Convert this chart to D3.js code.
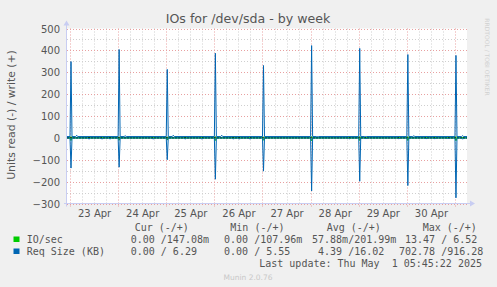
<!DOCTYPE html>
<html><head><meta charset="utf-8">
<script src="https://cdn.jsdelivr.net/npm/d3@7"></script>
<style>
body{margin:0;background:#f0f0f0;}
svg{display:block;}
text{white-space:pre;}
</style></head><body>
<svg id="c" width="497" height="287"></svg>
<script>
// ---------- data ----------
const title = "IOs for /dev/sda - by week";
const yLabel = "Units read (-) / write (+)";
const yTicks = [500, 400, 300, 200, 100, 0, -100, -200, -300];
const dayLabels = ["23 Apr", "24 Apr", "25 Apr", "26 Apr", "27 Apr", "28 Apr", "29 Apr", "30 Apr"];
const dayNoons = ["2025-04-23T12:00", "2025-04-24T12:00", "2025-04-25T12:00", "2025-04-26T12:00",
                  "2025-04-27T12:00", "2025-04-28T12:00", "2025-04-29T12:00", "2025-04-30T12:00"];
const timeStart = "2025-04-22T22:30";
const timeEnd = "2025-05-01T06:00";

const spikeTimes = ["2025-04-23T00:30", "2025-04-24T00:30", "2025-04-25T00:30", "2025-04-26T00:30",
                    "2025-04-27T00:30", "2025-04-28T00:30", "2025-04-29T00:30", "2025-04-30T00:30",
                    "2025-05-01T00:30"];
// Req Size (KB): write (+) and read (-) peaks
const reqWritePeaks = [349, 404, 313, 387, 331, 422, 409, 381, 377];
const reqReadPeaks  = [138, 134, 100, 189, 152, 243, 198, 218, 274];
// IO/sec peaks
const ioWritePeaks = [6, 5, 5, 6, 5, 6, 6, 6, 6.5];
const ioReadPeaks  = [12, 11, 10, 12, 11, 13, 12, 12, 13.5];
// baselines
const reqWriteBase = 6, reqReadBase = 0.5, ioWriteBase = 0.15, ioReadBase = 0.05;
// small excursions
const reqWriteBumps = [["2025-04-23T03:20", 12], ["2025-04-24T03:30", 10], ["2025-04-25T03:30", 12],
                       ["2025-04-26T03:40", 12], ["2025-04-28T03:30", 6], ["2025-04-29T03:30", 6],
                       ["2025-04-30T03:30", 10], ["2025-05-01T03:50", 10]];
const reqReadBumps = [["2025-04-23T09:30", 6], ["2025-04-23T16:00", 6], ["2025-04-23T20:00", 6],
                      ["2025-04-24T17:30", 6], ["2025-04-25T09:30", 6], ["2025-04-25T17:45", 6],
                      ["2025-04-26T09:30", 6], ["2025-04-26T12:30", 6], ["2025-04-26T17:45", 6],
                      ["2025-04-28T19:20", 5], ["2025-04-29T03:40", 5], ["2025-04-29T20:00", 5],
                      ["2025-04-30T09:35", 5], ["2025-04-30T14:00", 5], ["2025-04-30T20:40", 5],
                      ["2025-05-01T03:50", 6]];

// legend table
const seriesNames = ["IO/sec", "Req Size (KB)"];
const seriesColors = ["#00cc00", "#0066b3"];
const colHeaders = ["Cur (-/+)", "Min (-/+)", "Avg (-/+)", "Max (-/+)"];
const curRead  = ["0.00", "0.00"],   curWrite = ["147.08m", "6.29"];
const minRead  = ["0.00", "0.00"],   minWrite = ["107.96m", "5.55"];
const avgRead  = ["57.88m", "4.39"], avgWrite = ["201.99m", "16.02"];
const maxRead  = ["13.47", "702.78"], maxWrite = ["6.52", "916.28"];
const lastUpdate = "Last update: Thu May  1 05:45:22 2025";
const footer = "Munin 2.0.76";
const sideText = "RRDTOOL / TOBI OETIKER";

// ---------- layout ----------
const parse = d3.timeParse("%Y-%m-%dT%H:%M");
const svg = d3.select("#c");
const L = 67, R = 467, T = 28.5, B = 203.5;
const x = d3.scaleTime().domain([parse(timeStart), parse(timeEnd)]).range([L, R]);
const y = d3.scaleLinear().domain([-300, 500]).range([B, T]);
const fontSans = "'DejaVu Sans', sans-serif";
const fontMono = "'DejaVu Sans Mono', monospace";
const txt = "#555";

svg.append("rect").attr("width", 497).attr("height", 287).attr("fill", "#f0f0f0");
svg.append("rect").attr("x", L).attr("y", T).attr("width", R - L).attr("height", B - T).attr("fill", "#fff");

// minor grid
const g = svg.append("g");
const minorY = d3.range(-250, 500, 100);
g.selectAll(".hmin").data(minorY).join("line")
  .attr("x1", L).attr("x2", R).attr("y1", d => Math.round(y(d)) + 0.5).attr("y2", d => Math.round(y(d)) + 0.5)
  .attr("stroke", "#cfcfcf").attr("stroke-dasharray", "1,2");
const sixHours = d3.timeHour.every(6).range(x.domain()[0], x.domain()[1]).filter(d => d.getHours() !== 0);
g.selectAll(".vmin").data(sixHours).join("line")
  .attr("x1", d => Math.round(x(d)) + 0.5).attr("x2", d => Math.round(x(d)) + 0.5)
  .attr("y1", T).attr("y2", B + 1.5)
  .attr("stroke", "#cfcfcf").attr("stroke-dasharray", "1,2");
// major grid
g.selectAll(".hmaj").data(yTicks.filter(d => d !== 0)).join("line")
  .attr("x1", L).attr("x2", R).attr("y1", d => Math.round(y(d)) + 0.5).attr("y2", d => Math.round(y(d)) + 0.5)
  .attr("stroke", "#e8a0a0").attr("stroke-dasharray", "1,2");
const midnights = d3.timeDay.range(x.domain()[0], x.domain()[1]);
g.selectAll(".vmaj").data(midnights).join("line")
  .attr("x1", d => Math.round(x(d)) + 0.5).attr("x2", d => Math.round(x(d)) + 0.5)
  .attr("y1", T).attr("y2", B + 3)
  .attr("stroke", "#e8a0a0").attr("stroke-dasharray", "1,2");

// axes lines + arrows
const axisCol = "#c8cdf2";
svg.append("line").attr("x1", L - 3).attr("x2", R + 6).attr("y1", B).attr("y2", B).attr("stroke", axisCol);
svg.append("path").attr("d", `M${R + 3},${B - 3}L${R + 8},${B}L${R + 3},${B + 3}Z`).attr("fill", axisCol);
svg.append("line").attr("x1", L - 0.5).attr("x2", L - 0.5).attr("y1", B + 3).attr("y2", T - 6).attr("stroke", axisCol);
svg.append("path").attr("d", `M${L - 3.5},${T - 3}L${L - 0.5},${T - 8}L${L + 2.5},${T - 3}Z`).attr("fill", axisCol);

// y axis labels
const yAxis = d3.axisLeft(y).tickValues(yTicks).tickSize(0).tickPadding(0).tickFormat(d3.format("d"));
const ya = svg.append("g").attr("transform", `translate(${L - 7},0)`).call(yAxis);
ya.select(".domain").remove();
ya.selectAll("text").attr("font-family", fontSans).attr("font-size", 10).attr("fill", txt).attr("dy", "0.35em");

// x axis labels
const xAxis = d3.axisBottom(x).tickValues(dayNoons.map(parse)).tickSize(0).tickPadding(0)
  .tickFormat((d, i) => dayLabels[i]);
const xa = svg.append("g").attr("transform", `translate(0,${B + 13})`).call(xAxis);
xa.select(".domain").remove();
xa.selectAll("text").attr("font-family", fontSans).attr("font-size", 10).attr("fill", txt).attr("dy", 0);

// ---------- series ----------
function build(base, events) {
  const ev = events.map(e => [parse(e[0]), e[1]]).sort((a, b) => a[0] - b[0]);
  const pts = [[x.domain()[0], base]];
  ev.forEach(([t, v]) => {
    pts.push([d3.timeMinute.offset(t, -30), base], [t, v], [d3.timeMinute.offset(t, 30), base]);
  });
  pts.push([x.domain()[1], base]);
  return pts.filter(p => p[0] >= x.domain()[0] && p[0] <= x.domain()[1]);
}
const line = d3.line().x(d => x(d[0])).y(d => y(d[1]));
const plot = svg.append("g");
svg.append("clipPath").attr("id", "clip").append("rect").attr("x", L).attr("y", T - 1).attr("width", R - L).attr("height", B - T + 1);
plot.attr("clip-path", "url(#clip)");

const ioW = build(ioWriteBase, spikeTimes.map((t, i) => [t, ioWritePeaks[i]]));
const ioR = build(ioReadBase, spikeTimes.map((t, i) => [t, ioReadPeaks[i]])).map(p => [p[0], -p[1]]);
const rqW = build(reqWriteBase, spikeTimes.map((t, i) => [t, reqWritePeaks[i]]).concat(reqWriteBumps));
const rqR = build(reqReadBase, spikeTimes.map((t, i) => [t, reqReadPeaks[i]]).concat(reqReadBumps)).map(p => [p[0], -p[1]]);

[ioW, ioR].forEach(s => plot.append("path").attr("d", line(s)).attr("fill", "none").attr("stroke", seriesColors[0]).attr("stroke-width", 1));
plot.append("line").attr("x1", L).attr("x2", R).attr("y1", y(0)).attr("y2", y(0))
  .attr("stroke", "#000").attr("stroke-width", 1).attr("stroke-dasharray", "2,1");
[rqW, rqR].forEach(s => plot.append("path").attr("d", line(s)).attr("fill", "none").attr("stroke", seriesColors[1]).attr("stroke-width", 1));

// ---------- title & labels ----------
svg.append("text").attr("x", 248).attr("y", 23).attr("text-anchor", "middle")
  .attr("font-family", fontSans).attr("font-size", 12.6).attr("fill", txt).text(title);
svg.append("text").attr("transform", "translate(15,115) rotate(-90)").attr("text-anchor", "middle")
  .attr("font-family", fontSans).attr("font-size", 10.8).attr("fill", txt).text(yLabel);
svg.append("text").attr("transform", "translate(484.5,57) rotate(90)").attr("text-anchor", "middle")
  .attr("font-family", fontSans).attr("font-size", 6).attr("fill", "#d0d0d0").text(sideText);

// ---------- legend ----------
const colStart = [118.7, 212, 306, 399];
const headerX = [134.7, 230.3, 326.7, 422.7];
const leg = svg.append("g").attr("font-family", fontMono).attr("font-size", 10).attr("fill", txt);
leg.selectAll(".hdr").data(colHeaders).join("text").attr("x", (d, i) => headerX[i]).attr("y", 231).text(d => d);
function field(s) {
  const m = s.endsWith("m");
  const num = m ? s.slice(0, -1) : s;
  return num.padStart(6, " ") + (m ? "m" : " ");
}
function cell(rd, wr) {
  const w = field(wr);
  return field(rd) + "/" + (w.startsWith(" ") ? w.slice(1) : w);
}
const cols = [[curRead, curWrite], [minRead, minWrite], [avgRead, avgWrite], [maxRead, maxWrite]];
seriesNames.forEach((name, r) => {
  const yy = 243 + r * 12;
  leg.append("rect").attr("x", 13.5).attr("y", yy - 6.5).attr("width", 6).attr("height", 5.5).attr("fill", seriesColors[r]);
  leg.append("text").attr("x", 26.7).attr("y", yy).text(name);
  cols.forEach(([rd, wr], c) => {
    leg.append("text").attr("x", colStart[c]).attr("y", yy).text(cell(rd[r], wr[r]));
  });
});
leg.append("text").attr("x", 482).attr("y", 267).attr("text-anchor", "end").text(lastUpdate);
svg.append("text").attr("x", 248).attr("y", 280).attr("text-anchor", "middle")
  .attr("font-family", fontSans).attr("font-size", 7.5).attr("fill", "#c8c8c8").text(footer);
</script>
</body></html>
